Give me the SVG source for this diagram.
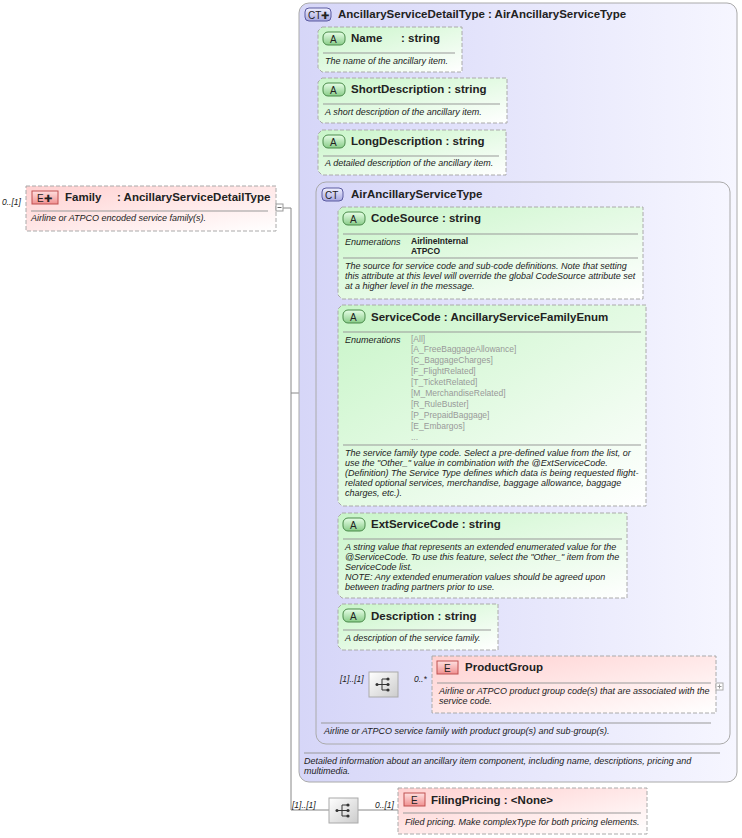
<svg xmlns="http://www.w3.org/2000/svg" width="742" height="838" viewBox="0 0 742 838">
<defs>
<linearGradient id="gA" x1="0" y1="0" x2="1" y2="1"><stop offset="0" stop-color="#c8f5c8"/><stop offset="1" stop-color="#ffffff"/></linearGradient>
<linearGradient id="gE" x1="0" y1="0" x2="1" y2="1"><stop offset="0" stop-color="#ffd0d0"/><stop offset="1" stop-color="#ffffff"/></linearGradient>
<linearGradient id="gCT" x1="0" y1="0" x2="1" y2="0"><stop offset="0" stop-color="#d6d6f8"/><stop offset="1" stop-color="#f6f6ff"/></linearGradient>
<linearGradient id="gS" x1="0" y1="0" x2="1" y2="1"><stop offset="0" stop-color="#ffffff"/><stop offset="1" stop-color="#cccccc"/></linearGradient>
<linearGradient id="gBA" x1="0" y1="0" x2="0" y2="1"><stop offset="0" stop-color="#e8ffe8"/><stop offset="1" stop-color="#88cc88"/></linearGradient>
<linearGradient id="gBE" x1="0" y1="0" x2="0" y2="1"><stop offset="0" stop-color="#ffe0e0"/><stop offset="1" stop-color="#f09090"/></linearGradient>
<linearGradient id="gBC" x1="0" y1="0" x2="0" y2="1"><stop offset="0" stop-color="#f0f0ff"/><stop offset="1" stop-color="#a8a8e0"/></linearGradient>
</defs>
<style>
text{font-family:"Liberation Sans",Arial,sans-serif;fill:#222}
.t{font-size:11.5px;font-weight:bold}
.d{font-size:9px;font-style:italic}
.en{font-size:8.5px;font-weight:bold;fill:#222}
.eg{font-size:8.5px;fill:#999}
.m{font-size:8.5px;font-style:italic}
.box{stroke:#aaa;stroke-dasharray:4,2;stroke-width:1}
.sep{stroke:#999;stroke-width:1}
.ln{stroke:#888;stroke-width:1;fill:none}
.bdg{font-size:10px}
</style>
<g id="connectors">
<path class="ln" d="M283,208H291V810H329M291,393H299M358,810H398"/>
<path class="ln" d="M309,49V463H330M309,49H318M309,100H318M309,152H318"/>
<path class="ln" d="M330,261V684H369M330,261H338M330,406H338M330,556H338M330,627H338M398,684H432"/>
</g>
<g id="outer">
<rect x="299" y="3" width="438" height="779" rx="10" fill="url(#gCT)" stroke="#aaa"/>
<rect x="305" y="8" width="26" height="13" rx="4" fill="url(#gBC)" stroke="#5a5aa0"/>
<text x="308" y="18.5" class="bdg" fill="#333">CT✚</text>
<text x="338" y="18" class="t">AncillaryServiceDetailType : AirAncillaryServiceType</text>
<line x1="304" y1="753" x2="720" y2="753" class="sep"/>
<text x="304" y="764" class="d">Detailed information about an ancillary item component, including name, descriptions, pricing and</text>
<text x="304" y="774" class="d">multimedia.</text>
</g>
<g id="family">
<rect x="26" y="186" width="250" height="45" fill="url(#gE)" class="box"/>
<rect x="32" y="191" width="26" height="13" fill="url(#gBE)" stroke="#c05050"/>
<text x="37" y="201.5" class="bdg">E✚</text>
<text x="65" y="201" class="t">Family</text>
<text x="117" y="201" class="t">: AncillaryServiceDetailType</text>
<line x1="31" y1="211" x2="268" y2="211" class="sep"/>
<text x="31" y="221" class="d">Airline or ATPCO encoded service family(s).</text>
<text x="2" y="205" class="m">0..[1]</text>
<rect x="276" y="204" width="7" height="7" fill="#fff" stroke="#999"/>
<line x1="277.5" y1="207.5" x2="281.5" y2="207.5" stroke="#666"/>
</g>
<g id="name">
<path d="M322,27H462V72H322L318,68V31Z" fill="url(#gA)" class="box"/>
<rect x="323" y="32" width="22" height="13" rx="5" fill="url(#gBA)" stroke="#4a8a4a"/><text x="330" y="42.5" class="bdg">A</text>
<text x="351" y="42" class="t">Name</text>
<text x="401" y="42" class="t">: string</text>
<line x1="323" y1="53" x2="455" y2="53" class="sep"/>
<text x="325" y="64" class="d">The name of the ancillary item.</text>
</g>
<g id="shortdesc">
<path d="M322,78H507V123H322L318,119V82Z" fill="url(#gA)" class="box"/>
<rect x="323" y="83" width="22" height="13" rx="5" fill="url(#gBA)" stroke="#4a8a4a"/><text x="330" y="93.5" class="bdg">A</text>
<text x="351" y="93" class="t">ShortDescription : string</text>
<line x1="323" y1="104" x2="500" y2="104" class="sep"/>
<text x="325" y="115" class="d">A short description of the ancillary item.</text>
</g>
<g id="longdesc">
<path d="M322,130H506V175H322L318,171V134Z" fill="url(#gA)" class="box"/>
<rect x="323" y="135" width="22" height="13" rx="5" fill="url(#gBA)" stroke="#4a8a4a"/><text x="330" y="145.5" class="bdg">A</text>
<text x="351" y="145" class="t">LongDescription : string</text>
<line x1="323" y1="156" x2="499" y2="156" class="sep"/>
<text x="325" y="166" class="d">A detailed description of the ancillary item.</text>
</g>
<g id="inner">
<rect x="316" y="182" width="414" height="562" rx="10" fill="url(#gCT)" stroke="#aaa"/>
<rect x="322" y="188" width="21" height="13" rx="4" fill="url(#gBC)" stroke="#5a5aa0"/>
<text x="325" y="198.5" class="bdg">CT</text>
<text x="351" y="198" class="t">AirAncillaryServiceType</text>
<line x1="321" y1="723" x2="711" y2="723" class="sep"/>
<text x="324" y="734" class="d">Airline or ATPCO service family with product group(s) and sub-group(s).</text>
</g>
<g id="codesource">
<path d="M342,207H643V299H342L338,295V211Z" fill="url(#gA)" class="box"/>
<rect x="343" y="212" width="22" height="13" rx="5" fill="url(#gBA)" stroke="#4a8a4a"/><text x="350" y="222.5" class="bdg">A</text>
<text x="371" y="222" class="t">CodeSource : string</text>
<line x1="343" y1="234" x2="638" y2="234" class="sep"/>
<text x="345" y="245" class="d">Enumerations</text>
<text x="411" y="244" class="en">AirlineInternal</text>
<text x="411" y="254" class="en">ATPCO</text>
<line x1="343" y1="258" x2="638" y2="258" class="sep"/>
<text x="345" y="269" class="d">The source for service code and sub-code definitions. Note that setting</text>
<text x="345" y="279" class="d">this attribute at this level will override the global CodeSource attribute set</text>
<text x="345" y="289" class="d">at a higher level in the message.</text>
</g>
<g id="servicecode">
<path d="M342,305H646V506H342L338,502V309Z" fill="url(#gA)" class="box"/>
<rect x="343" y="310" width="22" height="13" rx="5" fill="url(#gBA)" stroke="#4a8a4a"/><text x="350" y="320.5" class="bdg">A</text>
<text x="371" y="321" class="t">ServiceCode : AncillaryServiceFamilyEnum</text>
<line x1="343" y1="332" x2="641" y2="332" class="sep"/>
<text x="345" y="343" class="d">Enumerations</text>
<text x="411" y="342" class="eg">[All]</text>
<text x="411" y="352" class="eg">[A_FreeBaggageAllowance]</text>
<text x="411" y="363" class="eg">[C_BaggageCharges]</text>
<text x="411" y="374" class="eg">[F_FlightRelated]</text>
<text x="411" y="385" class="eg">[T_TicketRelated]</text>
<text x="411" y="396" class="eg">[M_MerchandiseRelated]</text>
<text x="411" y="407" class="eg">[R_RuleBuster]</text>
<text x="411" y="418" class="eg">[P_PrepaidBaggage]</text>
<text x="411" y="429" class="eg">[E_Embargos]</text>
<text x="411" y="440" class="eg">...</text>
<line x1="343" y1="445" x2="641" y2="445" class="sep"/>
<text x="345" y="456" class="d">The service family type code. Select a pre-defined value from the list, or</text>
<text x="345" y="466" class="d">use the "Other_" value in combination with the @ExtServiceCode.</text>
<text x="345" y="476" class="d">(Definition) The Service Type defines which data is being requested flight-</text>
<text x="345" y="486" class="d">related optional services, merchandise, baggage allowance, baggage</text>
<text x="345" y="496" class="d">charges, etc.).</text>
</g>
<g id="extservicecode">
<path d="M342,513H627V598H342L338,594V517Z" fill="url(#gA)" class="box"/>
<rect x="343" y="518" width="22" height="13" rx="5" fill="url(#gBA)" stroke="#4a8a4a"/><text x="350" y="528.5" class="bdg">A</text>
<text x="371" y="528" class="t">ExtServiceCode : string</text>
<line x1="343" y1="539" x2="622" y2="539" class="sep"/>
<text x="345" y="550" class="d">A string value that represents an extended enumerated value for the</text>
<text x="345" y="560" class="d">@ServiceCode. To use this feature, select the "Other_" item from the</text>
<text x="345" y="570" class="d">ServiceCode list.</text>
<text x="345" y="580" class="d">NOTE: Any extended enumeration values should be agreed upon</text>
<text x="345" y="590" class="d">between trading partners prior to use.</text>
</g>
<g id="description">
<path d="M342,604H498V650H342L338,646V608Z" fill="url(#gA)" class="box"/>
<rect x="343" y="609" width="22" height="13" rx="5" fill="url(#gBA)" stroke="#4a8a4a"/><text x="350" y="619.5" class="bdg">A</text>
<text x="371" y="620" class="t">Description : string</text>
<line x1="343" y1="630" x2="491" y2="630" class="sep"/>
<text x="345" y="641" class="d">A description of the service family.</text>
</g>
<g id="seq1">
<rect x="369" y="672" width="29" height="25" fill="url(#gS)" stroke="#aaa"/>
<path d="M377,684.5H382M382,679V690M382,679H387M382,684.5H387M382,690H387" stroke="#333" fill="none"/>
<circle cx="377" cy="684.5" r="1.5" fill="#333"/><circle cx="388" cy="679" r="1.6" fill="#333"/><circle cx="388" cy="684.5" r="1.6" fill="#333"/><circle cx="388" cy="690" r="1.6" fill="#333"/>
<text x="340" y="682" class="m">[1]..[1]</text>
<text x="414" y="682" class="m">0..*</text>
</g>
<g id="productgroup">
<rect x="432" y="656" width="284" height="57" fill="url(#gE)" class="box"/>
<rect x="437" y="661" width="21" height="13" fill="url(#gBE)" stroke="#c05050"/><text x="444" y="671.5" class="bdg">E</text>
<text x="465" y="671" class="t">ProductGroup</text>
<line x1="437" y1="683" x2="711" y2="683" class="sep"/>
<text x="439" y="694" class="d">Airline or ATPCO product group code(s) that are associated with the</text>
<text x="439" y="704" class="d">service code.</text>
<rect x="716" y="683" width="7" height="7" fill="#fff" stroke="#aaa"/>
<path d="M717.5,686.5H721.5M719.5,684.5V688.5" stroke="#999"/>
</g>
<g id="seq2">
<rect x="329" y="798" width="29" height="25" fill="url(#gS)" stroke="#aaa"/>
<path d="M337,810.5H342M342,805V816M342,805H347M342,810.5H347M342,816H347" stroke="#333" fill="none"/>
<circle cx="337" cy="810.5" r="1.5" fill="#333"/><circle cx="348" cy="805" r="1.6" fill="#333"/><circle cx="348" cy="810.5" r="1.6" fill="#333"/><circle cx="348" cy="816" r="1.6" fill="#333"/>
<text x="292" y="808" class="m">[1]..[1]</text>
<text x="375" y="808" class="m">0..[1]</text>
</g>
<g id="filingpricing">
<rect x="398" y="788" width="249" height="46" fill="url(#gE)" class="box"/>
<rect x="404" y="793" width="21" height="13" fill="url(#gBE)" stroke="#c05050"/><text x="411" y="803.5" class="bdg">E</text>
<text x="431" y="804" class="t">FilingPricing : &lt;None&gt;</text>
<line x1="403" y1="813" x2="641" y2="813" class="sep"/>
<text x="405" y="825" class="d">Filed pricing. Make complexType for both pricing elements.</text>
</g>
</svg>
